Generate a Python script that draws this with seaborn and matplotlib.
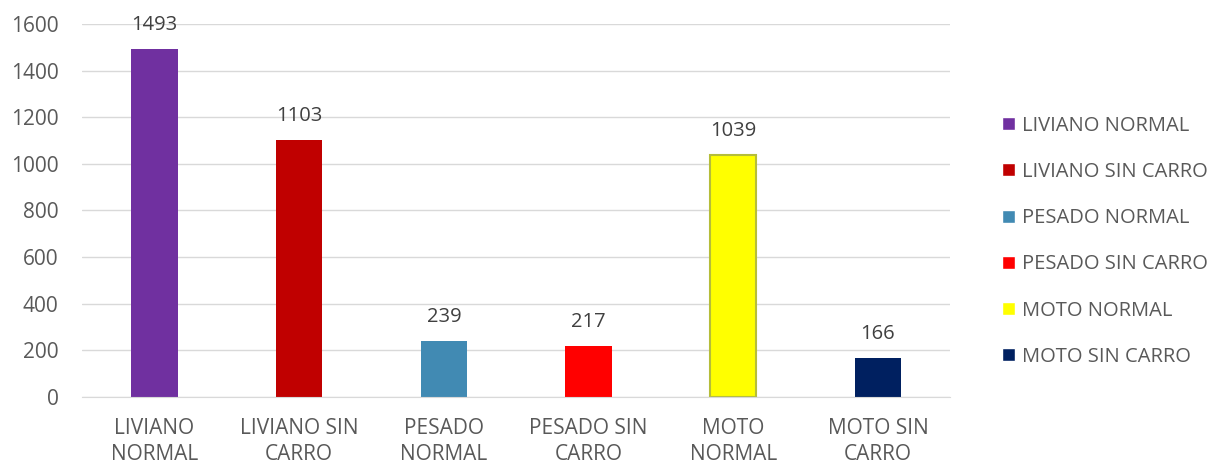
import matplotlib
matplotlib.use("Agg")
import matplotlib.pyplot as plt
import pandas as pd
import seaborn as sns

categories = ["LIVIANO NORMAL", "LIVIANO SIN CARRO", "PESADO NORMAL",
              "PESADO SIN CARRO", "MOTO NORMAL", "MOTO SIN CARRO"]
tick_labels = ["LIVIANO\nNORMAL", "LIVIANO SIN\nCARRO", "PESADO\nNORMAL",
               "PESADO SIN\nCARRO", "MOTO\nNORMAL", "MOTO SIN\nCARRO"]
values = [1493, 1103, 239, 217, 1039, 166]
colors = ["#7030A0", "#C00000", "#418AB3", "#FF0000", "#FFFF00", "#002060"]

df = pd.DataFrame({"tipo": categories, "total": values})

sns.set_style("white")
plt.rcParams["font.family"] = ["Open Sans", "DejaVu Sans"]
txt = "#595959"

fig = plt.figure(figsize=(12.09, 4.73), dpi=100)
ax = fig.add_axes([0.068, 0.161, 0.718, 0.788])

sns.barplot(data=df, x="tipo", y="total", hue="tipo", palette=colors,
            width=0.32, dodge=False, legend=True, ax=ax, saturation=1)

# yellow bar has an olive outline in the original
for patch, c in zip(ax.patches, colors):
    if c == "#FFFF00":
        patch.set_edgecolor("#B5BD3A")
        patch.set_linewidth(1.5)
    else:
        patch.set_edgecolor("none")

for cont in ax.containers:
    ax.bar_label(cont, padding=10, fontsize=14.5, color="#404040")

ax.set_ylim(0, 1600)
ax.set_yticks(range(0, 1601, 200))
ax.set_xticks(range(len(tick_labels)))
ax.set_xticklabels(tick_labels, linespacing=1.35)
ax.set_xlabel("")
ax.set_ylabel("")
ax.tick_params(axis="both", length=0, labelsize=15, colors=txt)
ax.tick_params(axis="x", pad=15)
ax.tick_params(axis="y", pad=17)
ax.grid(axis="y", color="#D9D9D9", linewidth=1)
ax.set_axisbelow(True)
for s in ["top", "right", "left"]:
    ax.spines[s].set_visible(False)
ax.spines["bottom"].set_color("#D9D9D9")

leg = ax.legend(loc="center left", bbox_to_anchor=(0.814, 0.49),
                bbox_transform=fig.transFigure, frameon=False,
                fontsize=14.5, labelspacing=1.3, handlelength=0.62,
                handleheight=0.62, handletextpad=0.35)
for t in leg.get_texts():
    t.set_color(txt)

fig.savefig("out.png", dpi=100)
